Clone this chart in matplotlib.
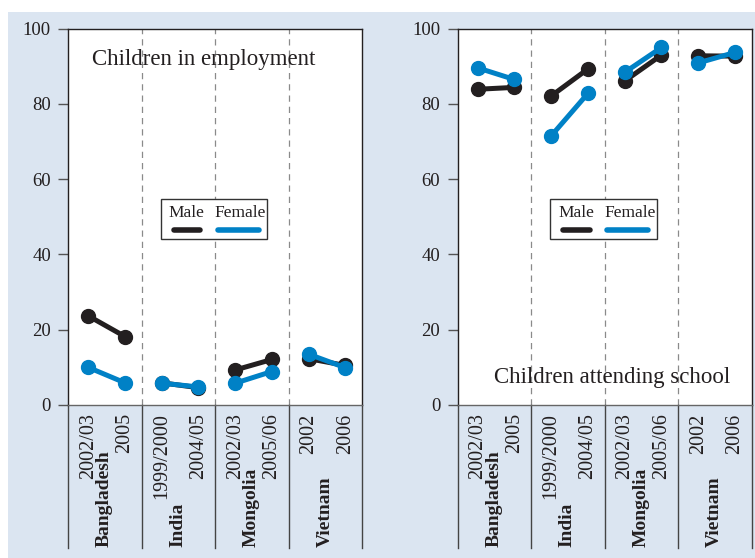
import matplotlib
matplotlib.use("Agg")
import matplotlib.pyplot as plt
from matplotlib.patches import Rectangle
from matplotlib.lines import Line2D

## data
countries = ["Bangladesh", "India", "Mongolia", "Vietnam"]
years = [["2002/03", "2005"], ["1999/2000", "2004/05"], ["2002/03", "2005/06"], ["2002", "2006"]]

employment_male = [[23.7, 18.2], [5.9, 4.6], [9.3, 12.1], [12.3, 10.5]]
employment_female = [[10.0, 5.9], [5.8, 4.8], [5.8, 8.9], [13.5, 9.9]]

school_male = [[83.9, 84.4], [82.1, 89.3], [86.1, 93.0], [92.8, 92.7]]
school_female = [[89.6, 86.5], [71.5, 82.8], [88.4, 95.0], [90.9, 93.7]]

## style
black = "#231f20"
blue = "#0081c6"
bg = "#dbe5f1"
plt.rcParams["font.family"] = ["Liberation Serif", "DejaVu Serif"]


def draw_panel(ax, male, female, title, title_pos, title_ha):
    """
    one small-multiple panel
    """

    ## point positions inside each country group
    offsets = [0.27, 0.77]

    ## lines, male first so female sits on top
    for i in range(len(countries)):
        xs = [i + o for o in offsets]
        ax.plot(xs, male[i], color=black, lw=3.6, marker="o", ms=10,
                solid_capstyle="round", zorder=3)
        ax.plot(xs, female[i], color=blue, lw=3.6, marker="o", ms=10,
                solid_capstyle="round", zorder=4)

    ## axes limits and ticks
    ax.set_xlim(0, len(countries))
    ax.set_ylim(0, 100)
    ax.set_yticks(range(0, 101, 20))
    ax.tick_params(axis="y", length=7.5, width=1, color="#555555",
                   labelsize=13.5, pad=5, labelcolor=black)

    xt = []
    xl = []
    for i in range(len(countries)):
        for k in range(2):
            xt.append(i + offsets[k])
            xl.append(years[i][k])
    ax.set_xticks(xt)
    ax.set_xticklabels(xl, rotation=90, fontsize=14.5, color=black)
    ax.tick_params(axis="x", length=0, pad=6)

    ## spines
    for s in ["top", "right", "left"]:
        ax.spines[s].set_color(black)
        ax.spines[s].set_linewidth(1)
    ax.spines["bottom"].set_color("#666666")
    ax.spines["bottom"].set_linewidth(1)

    ## separators: dashed in plot, solid in label area
    tr = ax.get_xaxis_transform()
    for i in range(1, len(countries)):
        ax.plot([i, i], [0, 1], transform=tr, color="#8a8a8a", lw=0.9,
                ls=(0, (5, 4)), zorder=1)
    for i in range(len(countries) + 1):
        ax.plot([i, i], [-0.38, 0], transform=tr, color="#444444", lw=1,
                clip_on=False)

    ## country names
    for i, c in enumerate(countries):
        ax.text(i + 0.49, -0.378, c, transform=tr, rotation=90, ha="center",
                va="bottom", fontsize=14, fontweight="bold", color=black)

    ## panel title
    ax.text(title_pos[0], title_pos[1], title, transform=ax.transAxes,
            ha=title_ha, va="center", fontsize=16.5, color=black)

    ## legend drawn by hand: label above a thick line
    ax.add_patch(Rectangle((0.315, 0.44), 0.362, 0.108, transform=ax.transAxes,
                           facecolor="white", edgecolor="#333333", lw=1, zorder=5))
    ax.text(0.402, 0.510, "Male", transform=ax.transAxes, ha="center",
            va="center", fontsize=12.5, color=black, zorder=6)
    ax.text(0.585, 0.510, "Female", transform=ax.transAxes, ha="center",
            va="center", fontsize=12.5, color=black, zorder=6)
    ax.add_line(Line2D([0.358, 0.448], [0.466, 0.466], transform=ax.transAxes,
                       color=black, lw=4, solid_capstyle="round", zorder=6))
    ax.add_line(Line2D([0.508, 0.648], [0.466, 0.466], transform=ax.transAxes,
                       color=blue, lw=4, solid_capstyle="round", zorder=6))


## figure
fig = plt.figure(figsize=(7.55, 5.58), dpi=100)
fig.patches.append(Rectangle((8 / 755, 0), 1, 1 - 12 / 558, transform=fig.transFigure,
                             facecolor=bg, edgecolor="none", zorder=-10))

ax1 = fig.add_axes([0.0905, 0.2742, 0.3894, 0.6744])
ax2 = fig.add_axes([0.6062, 0.2742, 0.3898, 0.6744])

draw_panel(ax1, employment_male, employment_female, "Children in employment",
           (0.081, 0.917), "left")
draw_panel(ax2, school_male, school_female, "Children attending school",
           (0.524, 0.074), "center")

fig.savefig("out.png", dpi=100)
